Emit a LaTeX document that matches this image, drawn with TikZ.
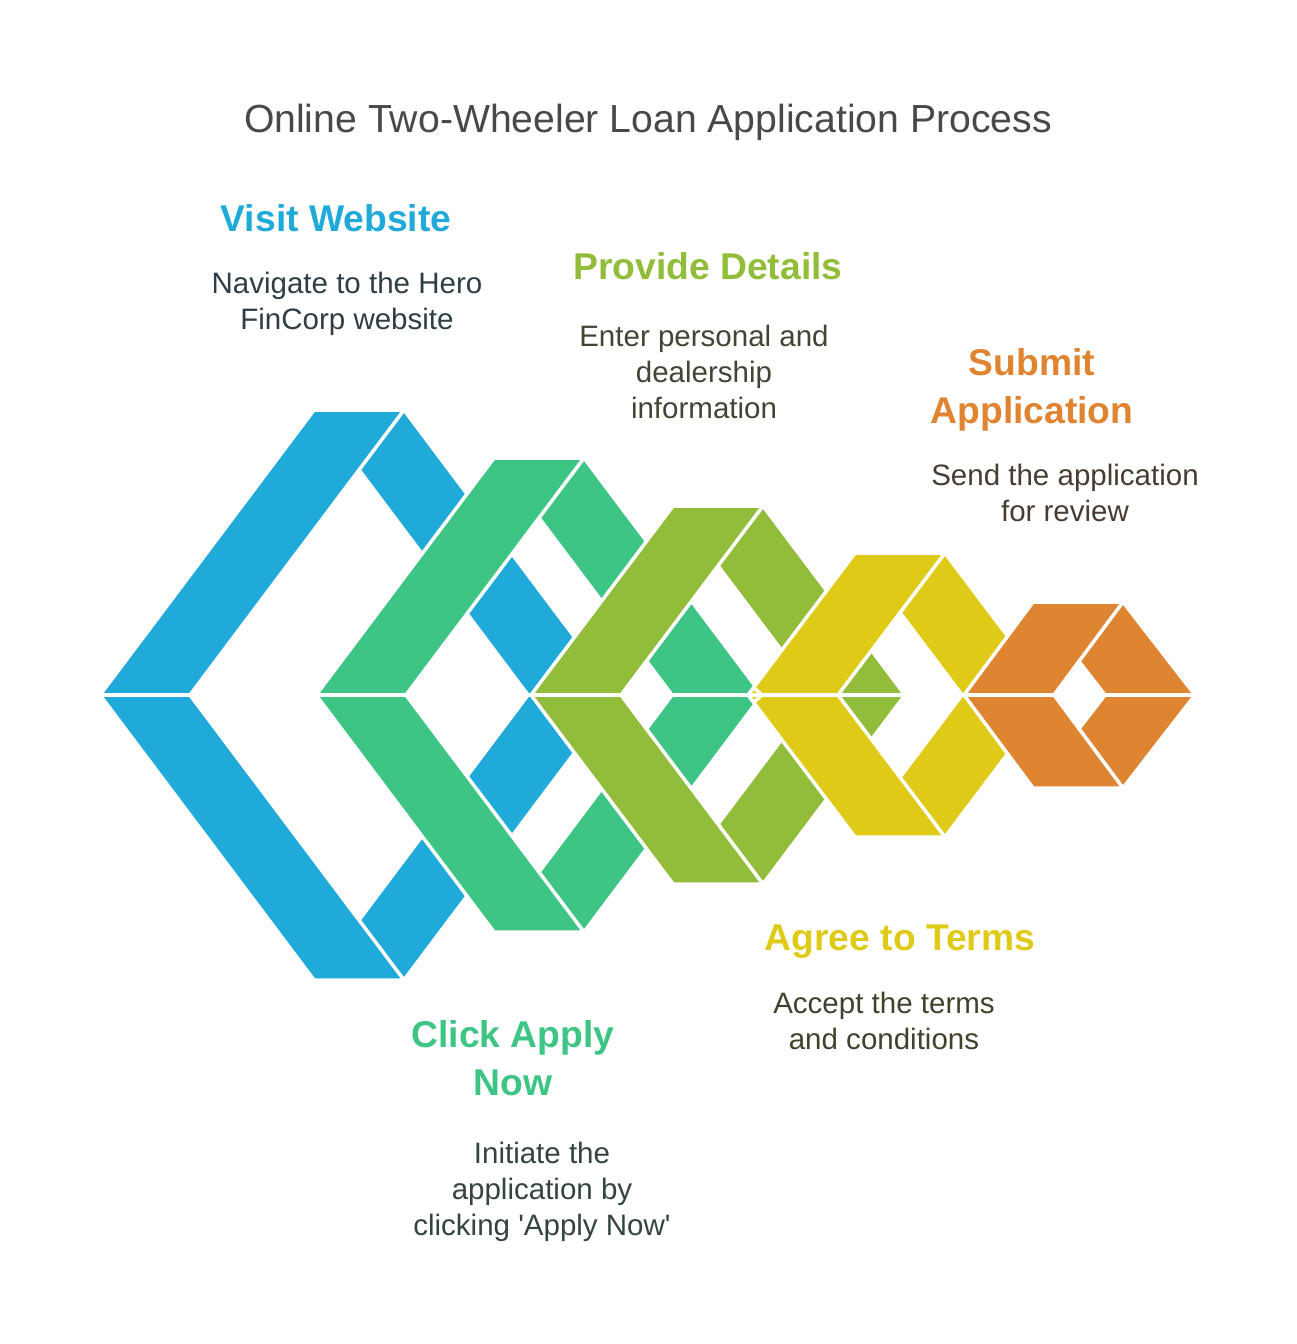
\documentclass[tikz,border=0pt]{standalone}
\usepackage{fontspec}
\setmainfont{Liberation Sans}
\definecolor{webblue}{HTML}{1FAAD9}
\definecolor{applygreen}{HTML}{3EC585}
\definecolor{detailolive}{HTML}{92BD3A}
\definecolor{termsyellow}{HTML}{DFCB17}
\definecolor{submitorange}{HTML}{DF8431}
\definecolor{titlegray}{HTML}{484848}

\begin{document}
\begin{tikzpicture}[
    x=0.02cm, y=-0.02cm,
    band/.style    = {draw = white, line width = 2pt, line join = round},
    heading/.style = {font = \bfseries\fontsize{21.2}{27.2}\selectfont, align = center},
    desc/.style    = {font = \fontsize{16.8}{20.4}\selectfont, align = center},
  ]
  \useasboundingbox (0,0) rectangle (1296,1344);

  % Titel
  \node[titlegray, font = \fontsize{22.3}{26}\selectfont] (title) at (648,122) {Online Two-Wheeler Loan Application Process};

  % rechte Schenkel (unten liegend)
  % Stufe 1
  \filldraw[band, fill=webblue] (314,410) -- (404,410) -- (618,695) -- (528,695) -- cycle;
  \filldraw[band, fill=webblue] (314,980) -- (404,980) -- (618,695) -- (528,695) -- cycle;
  % Stufe 2
  \filldraw[band, fill=applygreen] (494,458) -- (584,458) -- (762,695) -- (672,695) -- cycle;
  \filldraw[band, fill=applygreen] (494,932) -- (584,932) -- (762,695) -- (672,695) -- cycle;
  % Stufe 3
  \filldraw[band, fill=detailolive] (673,506) -- (763,506) -- (905,695) -- (815,695) -- cycle;
  \filldraw[band, fill=detailolive] (673,884) -- (763,884) -- (905,695) -- (815,695) -- cycle;
  % Stufe 4
  \filldraw[band, fill=termsyellow] (855,553) -- (945,553) -- (1052,695) -- (962,695) -- cycle;
  \filldraw[band, fill=termsyellow] (855,837) -- (945,837) -- (1052,695) -- (962,695) -- cycle;
  % Stufe 5
  \filldraw[band, fill=submitorange] (1033,602) -- (1123,602) -- (1195,695) -- (1105,695) -- cycle;
  \filldraw[band, fill=submitorange] (1033,788) -- (1123,788) -- (1195,695) -- (1105,695) -- cycle;

  % linke Schenkel (oben liegend)
  % Stufe 1
  \filldraw[band, fill=webblue] (100,695) -- (190,695) -- (404,410) -- (314,410) -- cycle;
  \filldraw[band, fill=webblue] (100,695) -- (190,695) -- (404,980) -- (314,980) -- cycle;
  % Stufe 2
  \filldraw[band, fill=applygreen] (316,695) -- (406,695) -- (584,458) -- (494,458) -- cycle;
  \filldraw[band, fill=applygreen] (316,695) -- (406,695) -- (584,932) -- (494,932) -- cycle;
  % Stufe 3
  \filldraw[band, fill=detailolive] (531,695) -- (621,695) -- (763,506) -- (673,506) -- cycle;
  \filldraw[band, fill=detailolive] (531,695) -- (621,695) -- (763,884) -- (673,884) -- cycle;
  % Stufe 4
  \filldraw[band, fill=termsyellow] (748,695) -- (838,695) -- (945,553) -- (855,553) -- cycle;
  \filldraw[band, fill=termsyellow] (748,695) -- (838,695) -- (945,837) -- (855,837) -- cycle;
  % Stufe 5
  \filldraw[band, fill=submitorange] (964,695) -- (1054,695) -- (1123,602) -- (1033,602) -- cycle;
  \filldraw[band, fill=submitorange] (964,695) -- (1054,695) -- (1123,788) -- (1033,788) -- cycle;

  % Fuge an der Spitze von Stufe 4
  \begin{scope}
    \clip (748,695) -- (838,695) -- (945,553) -- (855,553) -- cycle;
    \draw[white, line width = 2pt] (494,458) -- (762,695);
  \end{scope}
  \begin{scope}
    \clip (748,695) -- (838,695) -- (945,837) -- (855,837) -- cycle;
    \draw[white, line width = 2pt] (494,932) -- (762,695);
  \end{scope}

  % Beschriftungen
  \node[heading, webblue] (visit) at (336,218) {Visit Website};
  \node[desc, color={rgb,255:red,47;green,62;blue,70}] (visittext) at (347,304) {Navigate to the Hero\\FinCorp website};

  \node[heading, detailolive] (details) at (708,266) {Provide Details};
  \node[desc, color={rgb,255:red,65;green,69;blue,52}] (detailstext) at (704,372) {Enter personal and\\dealership\\information};

  \node[heading, submitorange] (submit) at (1032,390) {Submit\\Application};
  \node[desc, color={rgb,255:red,71;green,60;blue,50}] (submittext) at (1065,493) {Send the application\\for review};

  \node[heading, termsyellow] (terms) at (900,942) {Agree to Terms};
  \node[desc, color={rgb,255:red,67;green,64;blue,45}] (termstext) at (884,1021) {Accept the terms\\and conditions};

  \node[heading, applygreen] (apply) at (513,1058) {Click Apply\\Now};
  \node[desc, color={rgb,255:red,52;green,68;blue,62}] (applytext) at (542,1192) {Initiate the\\application by\\clicking \textquotesingle Apply Now\textquotesingle};

\end{tikzpicture}
\end{document}
